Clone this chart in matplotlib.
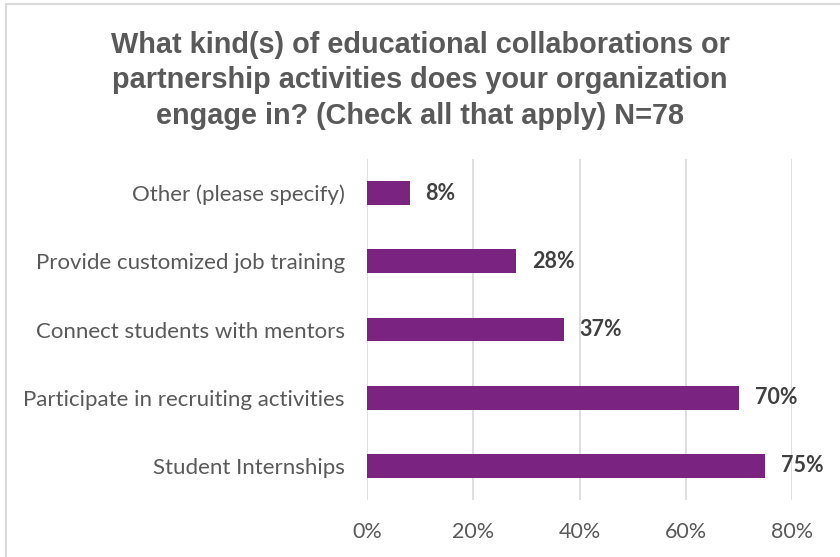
import matplotlib
matplotlib.use("Agg")
import matplotlib.pyplot as plt
import numpy as np

categories = ["Student Internships",
              "Participate in recruiting activities",
              "Connect students with mentors",
              "Provide customized job training",
              "Other (please specify)"]
shares = [75, 70, 37, 28, 8]
xticks = [0, 20, 40, 60, 80]

title = ("What kind(s) of educational collaborations or\n"
         "partnership activities does your organization\n"
         "engage in? (Check all that apply) N=78")

bar_color = "#7B2381"
grey = "#595959"

fig = plt.figure(figsize=(8.4, 5.57), dpi=100)
ax = fig.add_axes([0.4369, 0.1023, 0.506, 0.6122])

y = np.arange(len(categories))
ax.barh(y, shares, height=0.35, color=bar_color, zorder=3)
for yi, v in zip(y, shares):
    ax.text(v + 3.0, yi, f"{v}%", va="center", ha="left", fontsize=15.5,
            fontweight="bold", color="#404040", family="Lato")

ax.set_xlim(0, 80)
ax.set_ylim(-0.5, len(categories) - 0.5)
ax.set_xticks(xticks)
ax.set_xticklabels([f"{t}%" for t in xticks], fontsize=15.5, color=grey, family="Lato")
ax.set_yticks(y)
ax.set_yticklabels(categories, fontsize=16, color=grey, family="Lato")
ax.tick_params(length=0)
ax.tick_params(axis="x", pad=16)
ax.tick_params(axis="y", pad=16)
ax.grid(axis="x", color="#D9D9D9", linewidth=1.2, zorder=0)
for s in ax.spines.values():
    s.set_visible(False)

fig.text(0.5, 1 - 80.5 / 557, title, ha="center", va="center", fontsize=20.8,
         fontweight="bold", color=grey, family="Liberation Sans",
         linespacing=1.32)

# light chart-area frame
frame = plt.Rectangle((0.007, -0.05), 1.1, 1.043, transform=fig.transFigure,
                      fill=False, edgecolor="#D9D9D9", linewidth=1.5)
fig.add_artist(frame)

fig.savefig("out.png", dpi=100)
